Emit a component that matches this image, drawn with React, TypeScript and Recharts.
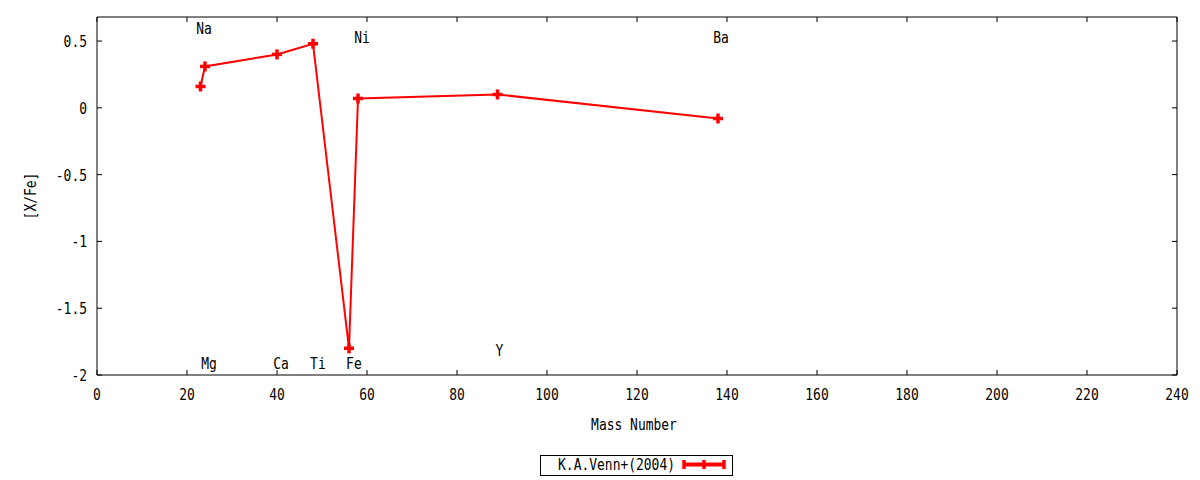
import React from 'react';
import { ComposedChart, Line, Scatter, XAxis, YAxis, ReferenceArea, Legend } from 'recharts';

// abundance pattern, K.A.Venn+(2004)
const massNumbers = [23, 24, 40, 48, 56, 58, 89, 138];
const xFe = [0.16, 0.31, 0.40, 0.48, -1.80, 0.07, 0.10, -0.08];

// element labels (data coordinates)
const labelNames = ['Na', 'Mg', 'Ca', 'Ti', 'Fe', 'Ni', 'Y', 'Ba'];
const labelX = [22.5, 23.6, 39.6, 47.8, 55.8, 57.6, 89, 137.4];
const labelY = [0.6, -1.91, -1.91, -1.91, -1.91, 0.53, -1.81, 0.53];

const xTicks = [0, 20, 40, 60, 80, 100, 120, 140, 160, 180, 200, 220, 240];
const yTicks = [-2, -1.5, -1, -0.5, 0, 0.5];

const seriesName = 'K.A.Venn+(2004)';

const points = massNumbers.map((x, i) => ({ x, y: xFe[i] }));
const labels = labelNames.map((name, i) => ({ x: labelX[i], y: labelY[i], name }));

const W = 1200;
const H = 480;
const PLOT_LEFT = 97;
const PLOT_RIGHT = 1177;
const PLOT_TOP = 17;
const PLOT_BOTTOM = 375;
const TICK = 5;
const RED = '#ff0000';
const FONT = '"DejaVu Sans Mono", monospace';

// gnuplot-ish narrow mono text
function GText({ x, y, anchor = 'start', rotate = 0, children }: any) {
  return (
    <text
      transform={`translate(${x},${y}) rotate(${rotate}) scale(0.81,1)`}
      textAnchor={anchor}
      fontFamily={FONT}
      fontSize={16}
      fill="#000"
    >
      {children}
    </text>
  );
}

function XTick({ x, payload }: any) {
  return (
    <g>
      <line x1={x} x2={x} y1={PLOT_BOTTOM} y2={PLOT_BOTTOM - TICK} stroke="#000" />
      <line x1={x} x2={x} y1={PLOT_TOP} y2={PLOT_TOP + TICK} stroke="#000" />
      <GText x={x} y={PLOT_BOTTOM + 25} anchor="middle">{payload.value}</GText>
    </g>
  );
}

function YTick({ y, payload }: any) {
  return (
    <g>
      <line x1={PLOT_LEFT} x2={PLOT_LEFT + TICK} y1={y} y2={y} stroke="#000" />
      <line x1={PLOT_RIGHT} x2={PLOT_RIGHT - TICK} y1={y} y2={y} stroke="#000" />
      <GText x={PLOT_LEFT - 10} y={y + 6} anchor="end">{String(payload.value)}</GText>
    </g>
  );
}

function PlusDot({ cx, cy }: any) {
  if (cx == null || cy == null) return null;
  return (
    <g>
      <line x1={cx - 5} x2={cx + 5} y1={cy} y2={cy} stroke={RED} strokeWidth={3.5} />
      <line x1={cx} x2={cx} y1={cy - 5} y2={cy + 5} stroke={RED} strokeWidth={3.5} />
    </g>
  );
}

function ElementLabel({ cx, cy, payload }: any) {
  return <GText x={cx - 2} y={cy + 6}>{payload.name}</GText>;
}

function KeyBox() {
  return (
    <svg width={193} height={21} style={{ display: 'block' }}>
      <rect x={0.5} y={0.5} width={192} height={20} fill="#fff" stroke="#000" />
      <GText x={135} y={15} anchor="end">{seriesName}</GText>
      <line x1={143} x2={185} y1={9.5} y2={9.5} stroke={RED} strokeWidth={4} />
      <line x1={144} x2={144} y1={5} y2={14} stroke={RED} strokeWidth={3.5} />
      <line x1={164} x2={164} y1={5} y2={14} stroke={RED} strokeWidth={3.5} />
      <line x1={184} x2={184} y1={5} y2={14} stroke={RED} strokeWidth={3.5} />
    </svg>
  );
}

export default function App() {
  return (
    <div style={{ position: 'absolute', left: 0, top: 0, width: W, height: H, background: '#fff' }}>
      <ComposedChart
        width={W}
        height={H}
        margin={{ top: PLOT_TOP, right: W - PLOT_RIGHT, bottom: 0, left: 0 }}
      >
        <XAxis
          type="number"
          dataKey="x"
          domain={[0, 240]}
          ticks={xTicks}
          allowDataOverflow
          height={H - PLOT_BOTTOM}
          axisLine={false}
          tickLine={false}
          tick={<XTick />}
          interval={0}
          label={{
            content: ({ viewBox }: any) => (
              <GText x={viewBox.x + viewBox.width / 2 - 3} y={PLOT_BOTTOM + 55} anchor="middle">
                Mass Number
              </GText>
            ),
          }}
        />
        <YAxis
          type="number"
          dataKey="y"
          domain={[-2, 0.68]}
          ticks={yTicks}
          allowDataOverflow
          width={PLOT_LEFT}
          axisLine={false}
          tickLine={false}
          tick={<YTick />}
          interval={0}
          label={{
            content: ({ viewBox }: any) => (
              <GText x={36} y={viewBox.y + viewBox.height / 2} anchor="middle" rotate={-90}>
                [X/Fe]
              </GText>
            ),
          }}
        />
        <ReferenceArea x1={0} x2={240} y1={-2} y2={0.68} fill="none" stroke="#000" strokeWidth={1} ifOverflow="visible" />
        <Line
          data={points}
          dataKey="y"
          type="linear"
          stroke={RED}
          strokeWidth={2}
          dot={<PlusDot />}
          activeDot={false}
          isAnimationActive={false}
          name={seriesName}
        />
        <Scatter data={labels} dataKey="y" shape={<ElementLabel />} isAnimationActive={false} legendType="none" />
        <Legend
          layout="horizontal"
          verticalAlign="middle"
          align="center"
          content={() => <KeyBox />}
          wrapperStyle={{ top: 455, left: 540, width: 193, height: 21, bottom: 'auto', right: 'auto' }}
        />
      </ComposedChart>
    </div>
  );
}
